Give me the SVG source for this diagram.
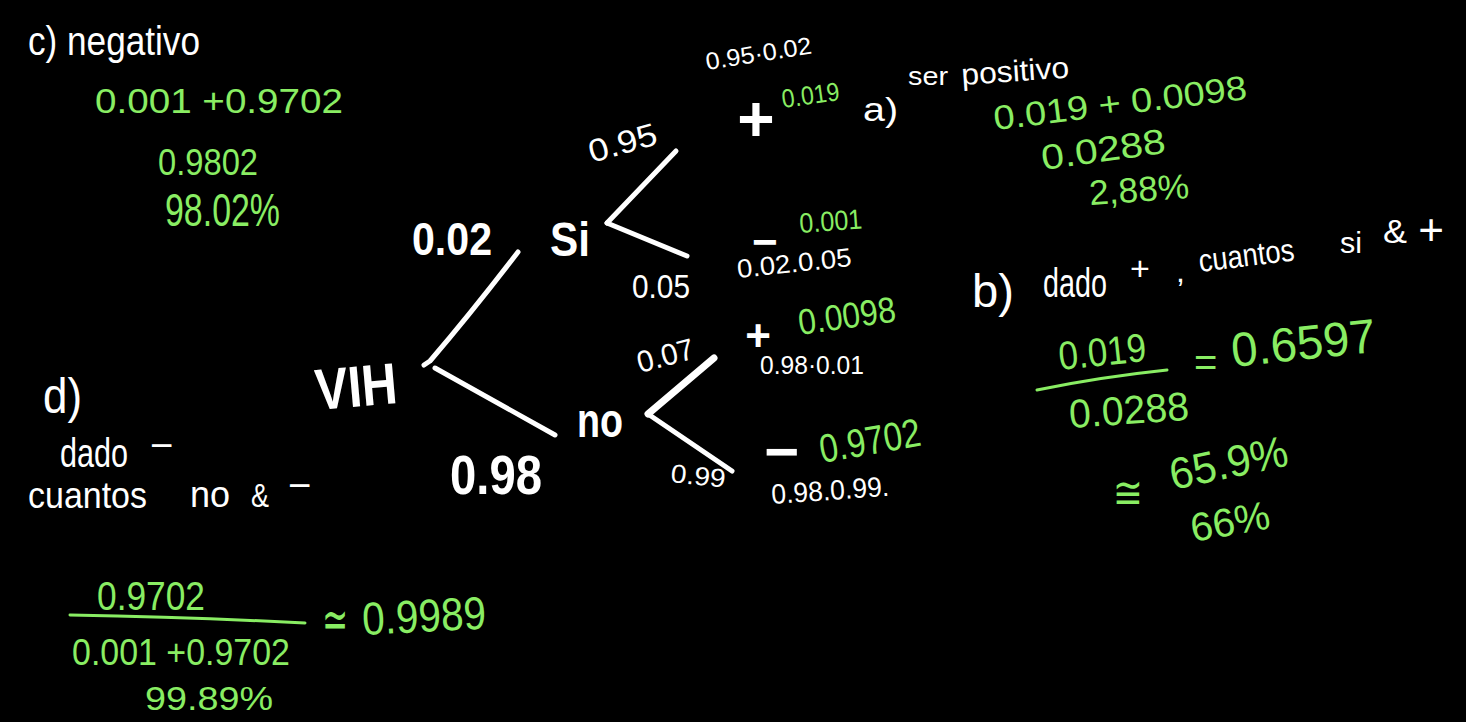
<svg xmlns="http://www.w3.org/2000/svg" width="1466" height="722" viewBox="0 0 1466 722">
<style>
text{font-family:"Liberation Sans","DejaVu Sans",sans-serif;}
.w{fill:#ffffff;}
.g{fill:#89ED63;}
.b{font-weight:bold;}
.ln{stroke:#ffffff;stroke-width:5;fill:none;stroke-linecap:round;stroke-linejoin:round;}
.gl{stroke:#89ED63;stroke-width:3;fill:none;stroke-linecap:round;}
</style>
<rect x="0" y="0" width="1466" height="722" fill="#000000"/>

<g id="connectors">
  <path class="ln" d="M424,365 L430,361 Q472,312 518,252"/>
  <path class="ln" d="M435,368 L555,435"/>
  <path class="ln" d="M607,223 L676,151"/>
  <path class="ln" d="M607,223 L687,256"/>
  <path class="ln" d="M648,414 L714,358" style="stroke-width:7"/>
  <path class="ln" d="M648,414 L732,471"/>
</g>

<g id="node-vih">
  <text class="w b" x="317" y="410" font-size="58" textLength="82" lengthAdjust="spacingAndGlyphs" transform="rotate(-5 317 410)">VIH</text>
</g>
<g id="edge-label-002">
  <text class="w b" x="412" y="255" font-size="46" textLength="80" lengthAdjust="spacingAndGlyphs">0.02</text>
</g>
<g id="edge-label-098">
  <text class="w b" x="450" y="494" font-size="56" textLength="92" lengthAdjust="spacingAndGlyphs">0.98</text>
</g>
<g id="node-si">
  <text class="w b" x="550" y="256" font-size="48" textLength="40" lengthAdjust="spacingAndGlyphs">Si</text>
</g>
<g id="node-no">
  <text class="w b" x="577" y="437" font-size="48" textLength="46" lengthAdjust="spacingAndGlyphs">no</text>
</g>

<g id="si-branches">
  <text class="w" x="592" y="163" font-size="32" textLength="70" lengthAdjust="spacingAndGlyphs" transform="rotate(-16 592 163)">0.95</text>
  <text class="w" x="632" y="298" font-size="34" textLength="58" lengthAdjust="spacingAndGlyphs">0.05</text>
</g>
<g id="node-si-pos">
  <text class="w" x="707" y="70" font-size="24" textLength="107" lengthAdjust="spacingAndGlyphs" transform="rotate(-9 707 70)">0.95·0.02</text>
  <text class="w b" x="756" y="141" font-size="64" text-anchor="middle">+</text>
  <text class="g" x="783" y="108" font-size="26" textLength="58" lengthAdjust="spacingAndGlyphs" transform="rotate(-8 783 108)">0.019</text>
</g>
<g id="node-si-neg">
  <text class="w b" x="752" y="257" font-size="44">−</text>
  <text class="g" x="800" y="233" font-size="28" textLength="63" lengthAdjust="spacingAndGlyphs" transform="rotate(-4 800 233)">0.001</text>
  <text class="w" x="738" y="278" font-size="26" textLength="115" lengthAdjust="spacingAndGlyphs" transform="rotate(-6 738 278)">0.02.0.05</text>
</g>

<g id="no-branches">
  <text class="w" x="640" y="373" font-size="30" textLength="58" lengthAdjust="spacingAndGlyphs" transform="rotate(-15 640 373)">0.07</text>
  <text class="w" x="670" y="482" font-size="26" textLength="55" lengthAdjust="spacingAndGlyphs" transform="rotate(6 670 482)">0.99</text>
</g>
<g id="node-no-pos">
  <text class="w b" x="758" y="351" font-size="44" text-anchor="middle">+</text>
  <text class="g" x="800" y="335" font-size="36" textLength="98" lengthAdjust="spacingAndGlyphs" transform="rotate(-8 800 335)">0.0098</text>
  <text class="w" x="760" y="374" font-size="26" textLength="104" lengthAdjust="spacingAndGlyphs">0.98·0.01</text>
</g>
<g id="node-no-neg">
  <text class="w b" x="764" y="472" font-size="60">−</text>
  <text class="g" x="822" y="463" font-size="40" textLength="102" lengthAdjust="spacingAndGlyphs" transform="rotate(-10 822 463)">0.9702</text>
  <text class="w" x="772" y="504" font-size="28" textLength="118" lengthAdjust="spacingAndGlyphs" transform="rotate(-4 772 504)">0.98.0.99.</text>
</g>

<g id="note-c">
  <text class="w" x="28" y="55" font-size="40" textLength="172" lengthAdjust="spacingAndGlyphs">c) negativo</text>
  <text class="g" x="95" y="113" font-size="35" textLength="248" lengthAdjust="spacingAndGlyphs">0.001 +0.9702</text>
  <text class="g" x="158" y="175" font-size="37" textLength="100" lengthAdjust="spacingAndGlyphs">0.9802</text>
  <text class="g" x="165" y="226" font-size="46" textLength="115" lengthAdjust="spacingAndGlyphs">98.02%</text>
</g>

<g id="note-a">
  <text class="w" x="863" y="121" font-size="34" textLength="35" lengthAdjust="spacingAndGlyphs">a)</text>
  <text class="w" x="908" y="85" font-size="26" textLength="40" lengthAdjust="spacingAndGlyphs">ser</text>
  <text class="w" x="962" y="85" font-size="30" textLength="108" lengthAdjust="spacingAndGlyphs" transform="rotate(-4 962 85)">positivo</text>
  <text class="g" x="995" y="130" font-size="34" textLength="255" lengthAdjust="spacingAndGlyphs" transform="rotate(-7 995 130)">0.019 + 0.0098</text>
  <text class="g" x="1043" y="170" font-size="35" textLength="125" lengthAdjust="spacingAndGlyphs" transform="rotate(-8 1043 170)">0.0288</text>
  <text class="g" x="1090" y="205" font-size="35" textLength="100" lengthAdjust="spacingAndGlyphs" transform="rotate(-4 1090 205)">2,88%</text>
</g>

<g id="note-b">
  <text class="w" x="972" y="307" font-size="46" textLength="42" lengthAdjust="spacingAndGlyphs">b)</text>
  <text class="w" x="1043" y="297" font-size="40" textLength="64" lengthAdjust="spacingAndGlyphs">dado</text>
  <text class="w" x="1140" y="280" font-size="34" text-anchor="middle">+</text>
  <text class="w" x="1176" y="282" font-size="32">,</text>
  <text class="w" x="1200" y="272" font-size="32" textLength="96" lengthAdjust="spacingAndGlyphs" transform="rotate(-7 1200 272)">cuantos</text>
  <text class="w" x="1340" y="253" font-size="30" textLength="22" lengthAdjust="spacingAndGlyphs">si</text>
  <text class="w" x="1383" y="243" font-size="34" textLength="24" lengthAdjust="spacingAndGlyphs">&amp;</text>
  <text class="w" x="1431" y="245" font-size="44" text-anchor="middle">+</text>
  <text class="g" x="1060" y="370" font-size="40" textLength="88" lengthAdjust="spacingAndGlyphs" transform="rotate(-6 1060 370)">0.019</text>
  <path class="gl" d="M1037,390 Q1100,377 1167,370"/>
  <text class="g" x="1070" y="428" font-size="40" textLength="120" lengthAdjust="spacingAndGlyphs" transform="rotate(-4 1070 428)">0.0288</text>
  <text class="g" x="1194" y="376" font-size="40">=</text>
  <text class="g" x="1233" y="367" font-size="48" textLength="145" lengthAdjust="spacingAndGlyphs" transform="rotate(-6 1233 367)">0.6597</text>
  <text class="g" x="1113" y="508" font-size="44" textLength="30" lengthAdjust="spacingAndGlyphs">≅</text>
  <text class="g" x="1173" y="490" font-size="44" textLength="120" lengthAdjust="spacingAndGlyphs" transform="rotate(-12 1173 490)">65.9%</text>
  <text class="g" x="1193" y="542" font-size="40" textLength="80" lengthAdjust="spacingAndGlyphs" transform="rotate(-10 1193 542)">66%</text>
</g>

<g id="note-d">
  <text class="w" x="43" y="413" font-size="50" textLength="39" lengthAdjust="spacingAndGlyphs">d)</text>
  <text class="w" x="60" y="467" font-size="40" textLength="68" lengthAdjust="spacingAndGlyphs">dado</text>
  <text class="w" x="150" y="459" font-size="40">−</text>
  <text class="w" x="28" y="508" font-size="36" textLength="119" lengthAdjust="spacingAndGlyphs">cuantos</text>
  <text class="w" x="190" y="507" font-size="36" textLength="40" lengthAdjust="spacingAndGlyphs">no</text>
  <text class="w" x="251" y="507" font-size="34" textLength="18" lengthAdjust="spacingAndGlyphs">&amp;</text>
  <text class="w" x="288" y="499" font-size="40">−</text>
  <text class="g" x="97" y="610" font-size="40" textLength="108" lengthAdjust="spacingAndGlyphs">0.9702</text>
  <path class="gl" d="M70,615 Q190,617 305,623"/>
  <text class="g" x="322" y="638" font-size="54" textLength="26" lengthAdjust="spacingAndGlyphs">≃</text>
  <text class="g" x="363" y="635" font-size="46" textLength="124" lengthAdjust="spacingAndGlyphs" transform="rotate(-3 363 635)">0.9989</text>
  <text class="g" x="72" y="665" font-size="36" textLength="218" lengthAdjust="spacingAndGlyphs">0.001 +0.9702</text>
  <text class="g" x="145" y="710" font-size="34" textLength="128" lengthAdjust="spacingAndGlyphs">99.89%</text>
</g>
</svg>
